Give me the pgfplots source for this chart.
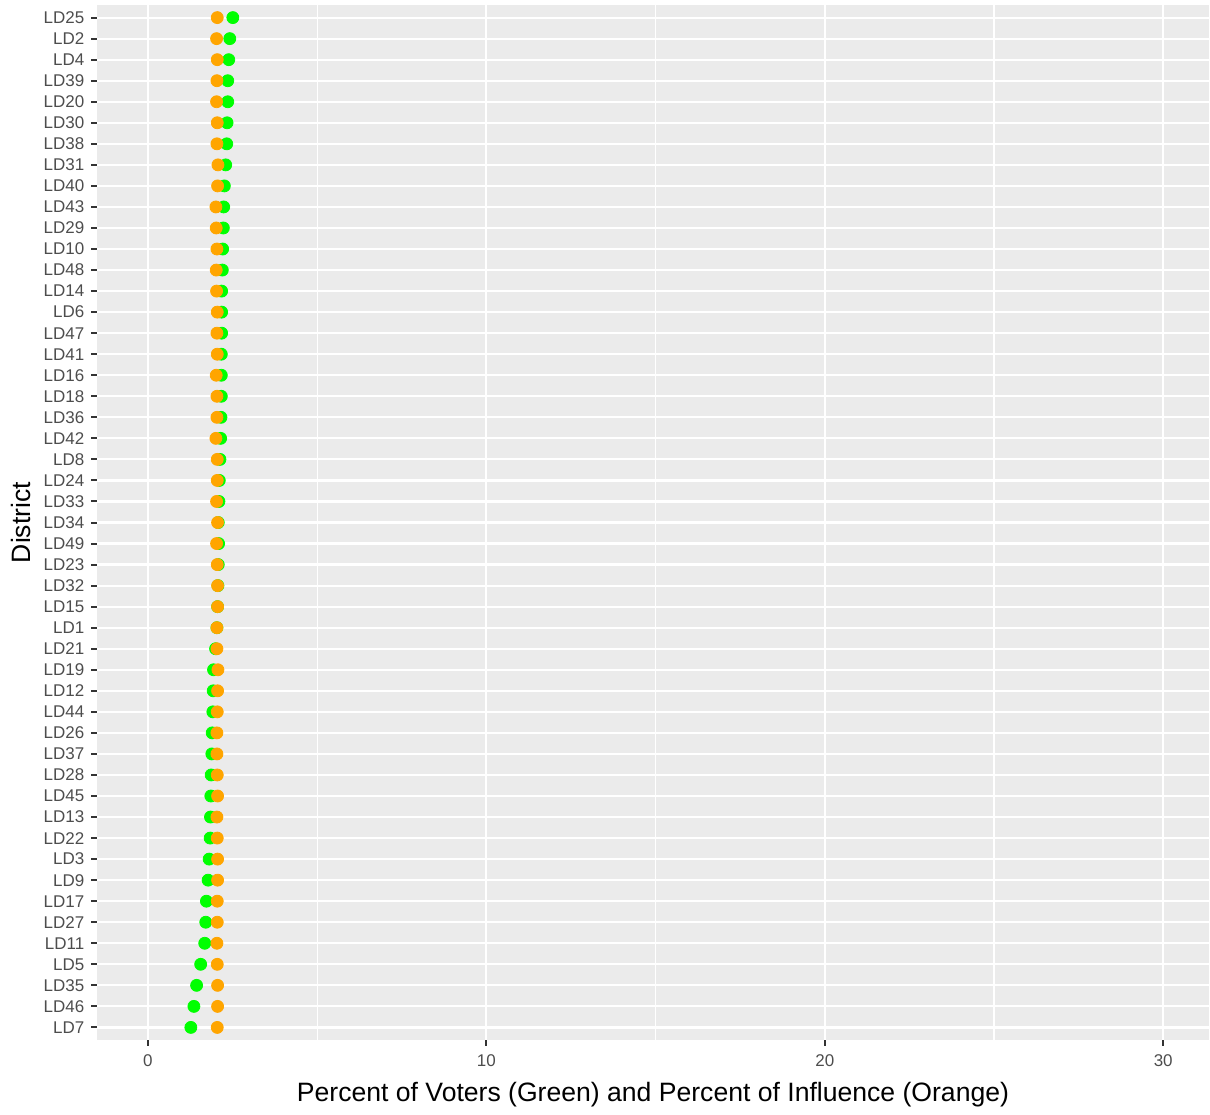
\documentclass[border=0pt]{standalone}
\usepackage{fontspec}
\setmainfont{Liberation Sans}
\usepackage{pgfplots}
\usepackage{pgfplotstable}
\pgfplotsset{compat=1.18}
\usetikzlibrary{calc}

\definecolor{panel}{HTML}{EBEBEB}
\definecolor{ticktext}{HTML}{4D4D4D}
\definecolor{tickmark}{HTML}{333333}
\definecolor{voters}{HTML}{00FF00}
\definecolor{influence}{HTML}{FFA500}

% y = row from bottom, green = percent of voters, orange = percent of influence
\pgfplotstableread{
y  green orange
1  1.27  2.05
2  1.36  2.06
3  1.44  2.06
4  1.56  2.05
5  1.68  2.04
6  1.71  2.05
7  1.73  2.05
8  1.78  2.06
9  1.81  2.06
10 1.84  2.05
11 1.85  2.04
12 1.86  2.06
13 1.87  2.05
14 1.89  2.04
15 1.90  2.04
16 1.92  2.05
17 1.93  2.06
18 1.94  2.07
19 2.00  2.04
20 2.04  2.04
21 2.06  2.06
22 2.07  2.06
23 2.08  2.05
24 2.09  2.03
25 2.08  2.06
26 2.10  2.03
27 2.11  2.05
28 2.13  2.05
29 2.15  2.01
30 2.16  2.04
31 2.17  2.04
32 2.17  2.02
33 2.17  2.05
34 2.18  2.04
35 2.18  2.05
36 2.18  2.03
37 2.20  2.02
38 2.21  2.04
39 2.23  2.02
40 2.24  2.01
41 2.26  2.06
42 2.30  2.07
43 2.33  2.04
44 2.34  2.05
45 2.36  2.03
46 2.36  2.04
47 2.39  2.05
48 2.42  2.03
49 2.51  2.05
}\districts

\begin{document}
\begin{tikzpicture}
\begin{axis}[
	scale only axis,
	width=556.4pt, height=518pt,
	xmin=-1.5, xmax=31.35,
	ymin=0.4, ymax=49.6,
	axis background/.style={fill=panel},
	axis line style={draw=none},
	xtick pos=bottom, ytick pos=left,
	xtick={0,10,20,30},
	minor xtick={5,15,25},
	ytick={1,...,49},
	yticklabels={LD7,LD46,LD35,LD5,LD11,LD27,LD17,LD9,LD3,LD22,LD13,LD45,LD28,LD37,LD26,LD44,LD12,LD19,LD21,LD1,LD15,LD32,LD23,LD49,LD34,LD33,LD24,LD8,LD42,LD36,LD18,LD16,LD41,LD47,LD6,LD14,LD48,LD10,LD29,LD43,LD40,LD31,LD38,LD30,LD20,LD39,LD4,LD2,LD25},
	grid=both,
	major grid style={white, line width=1.1pt},
	minor grid style={white, line width=0.55pt},
	tick align=outside,
	major tick length=2.9pt,
	minor tick length=0pt,
	major tick style={tickmark, line width=1pt},
	tick label style={font=\fontsize{8.5}{10}\selectfont, text=ticktext},
	xticklabel style={yshift=-1pt},
	/pgf/number format/assume math mode=true,
	xlabel={Percent of Voters (Green) and Percent of Influence (Orange)},
	ylabel={District},
	label style={font=\fontsize{13.3}{15}\selectfont, text=black},
	xlabel style={yshift=-1pt},
	ylabel style={yshift=-0.5pt},
]
\addplot[only marks, mark=*, mark size=3pt, color=voters]
	table[x=green, y=y] {\districts};
\addplot[only marks, mark=*, mark size=3pt, color=influence]
	table[x=orange, y=y] {\districts};
\end{axis}
\path ($(current axis.south west)+(-48.6pt,-33.5pt)$) rectangle ($(current axis.north east)+(0pt,2.5pt)$);
\end{tikzpicture}
\end{document}
